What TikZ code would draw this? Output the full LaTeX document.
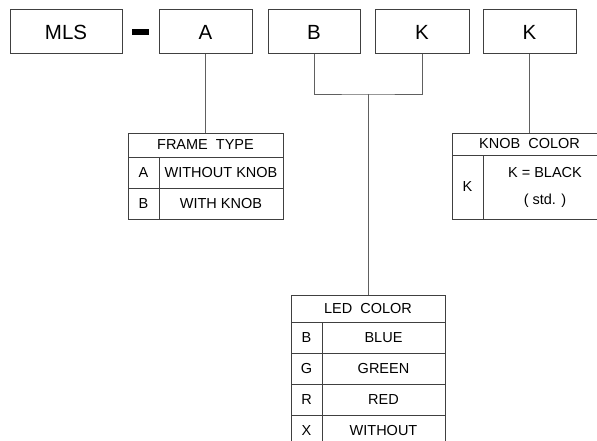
\documentclass[tikz,border=0pt]{standalone}
\usepackage{fontspec}
\setmainfont{Liberation Sans}
\definecolor{boxgray}{HTML}{404040}
\definecolor{linegray}{HTML}{606060}
\tikzset{
  box/.style={draw=boxgray, line width=1pt, inner sep=0pt, outer sep=0pt, font=\fontsize{20.5}{24}\selectfont},
  cell/.style={draw=boxgray, line width=0.9pt, inner sep=0pt, outer sep=0pt, font=\fontsize{14.5}{16}\selectfont},
  link/.style={draw=linegray, line width=0.9pt},
}
\begin{document}
\begin{tikzpicture}[x=1pt,y=-1pt]
\useasboundingbox (0,0) rectangle (597,441);
\clip (0,0) rectangle (597,441);
% top code boxes
\node[box, minimum width=112pt, minimum height=44pt] (mls) at (66,32) {MLS};
\node[fill=black, inner sep=0pt, minimum width=17pt, minimum height=6pt] (dashbar) at (140.5,32) {};
\node[box, minimum width=93pt, minimum height=44pt] (ca) at (205.5,32) {A};
\node[box, minimum width=92pt, minimum height=44pt] (cb) at (314,32) {B};
\node[box, minimum width=94pt, minimum height=44pt] (ck) at (422,32) {K};
\node[box, minimum width=93pt, minimum height=44pt] (ck2) at (529.5,32) {K};
% frame type table
\node[cell, minimum width=155pt, minimum height=24pt] (fh) at (205.5,145) {FRAME\ \ TYPE};
\node[cell, minimum width=31pt, minimum height=31pt] (fa) at (143.5,172.5) {A};
\node[cell, minimum width=124pt, minimum height=31pt] (fad) at (221,172.5) {WITHOUT KNOB};
\node[cell, minimum width=31pt, minimum height=31pt] (fb) at (143.5,203.5) {B};
\node[cell, minimum width=124pt, minimum height=31pt] (fbd) at (221,203.5) {WITH KNOB};
% knob color table
\node[cell, minimum width=155pt, minimum height=22pt] (kh) at (529.5,144) {KNOB\ \ COLOR};
\node[cell, minimum width=31pt, minimum height=64pt] (kk) at (467.5,187) {K};
\node[cell, minimum width=124pt, minimum height=64pt, align=center, font=\fontsize{14.5}{27}\selectfont] (kkd) at (545,187) {K = BLACK\\( std. )};
% LED color table
\node[cell, minimum width=154pt, minimum height=27pt] (lh) at (368,308.5) {LED\ \ COLOR};
\node[cell, minimum width=31pt, minimum height=31pt] (lb) at (306.5,337.5) {B};
\node[cell, minimum width=123pt, minimum height=31pt] (lbd) at (383.5,337.5) {BLUE};
\node[cell, minimum width=31pt, minimum height=31pt] (lg) at (306.5,368.5) {G};
\node[cell, minimum width=123pt, minimum height=31pt] (lgd) at (383.5,368.5) {GREEN};
\node[cell, minimum width=31pt, minimum height=31pt] (lr) at (306.5,399.5) {R};
\node[cell, minimum width=123pt, minimum height=31pt] (lrd) at (383.5,399.5) {RED};
\node[cell, minimum width=31pt, minimum height=31pt] (lx) at (306.5,430.5) {X};
\node[cell, minimum width=123pt, minimum height=31pt] (lxd) at (383.5,430.5) {WITHOUT};
% connectors
\coordinate (bk) at (368,94);
\draw[link] (ca.south) -- (fh.north);
\draw[link] (cb.south) |- (bk) -| (ck.south);
\draw[link] (bk) -- (lh.north);
\draw[link] (ck2.south) -- (kh.north);
\end{tikzpicture}
\end{document}
